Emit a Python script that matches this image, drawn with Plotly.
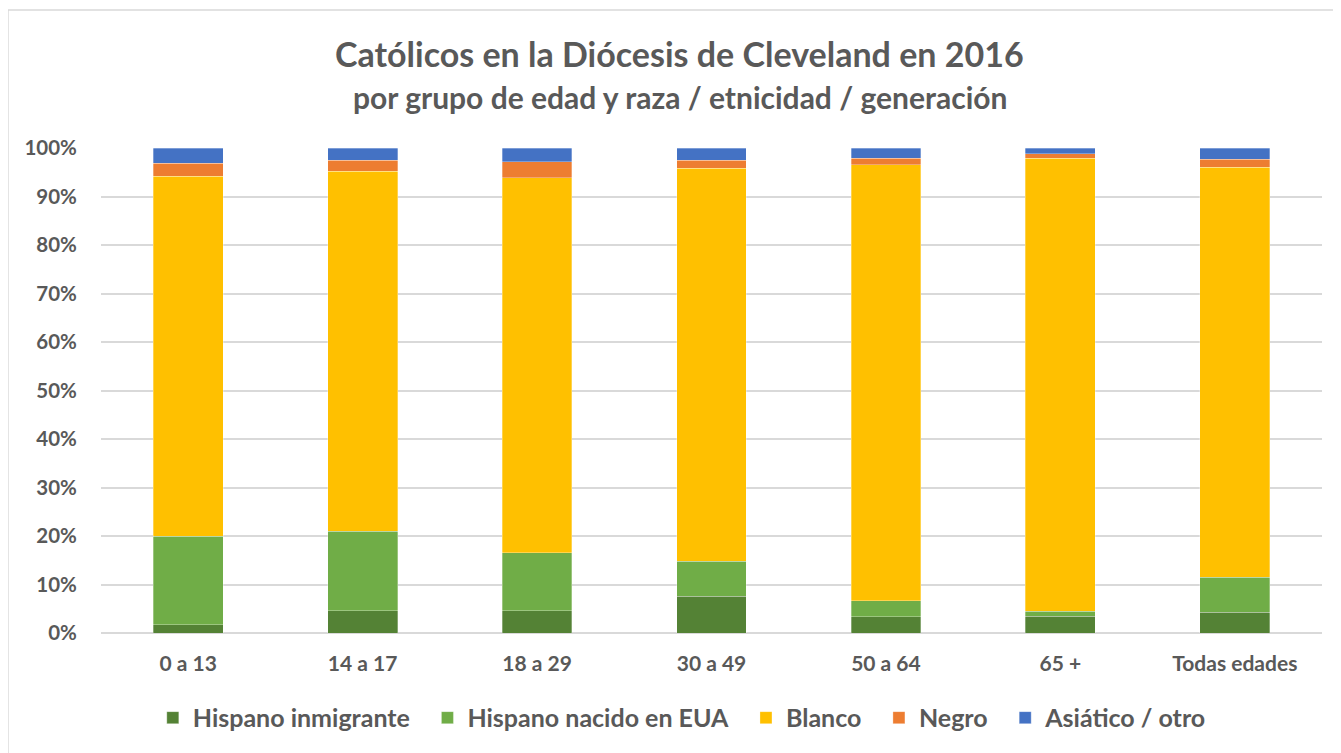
import plotly.graph_objects as go

categories = ["0 a 13", "14 a 17", "18 a 29", "30 a 49", "50 a 64", "65 +", "Todas edades"]
hispano_inmigrante = [1.7, 4.6, 4.6, 7.6, 3.4, 3.5, 4.3]
hispano_nacido = [18.3, 16.4, 11.9, 7.2, 3.2, 1.0, 7.2]
blanco = [74.2, 74.2, 77.4, 81.0, 89.9, 93.4, 84.5]
negro = [2.7, 2.3, 3.3, 1.7, 1.4, 0.9, 1.7]
asiatico = [3.1, 2.5, 2.8, 2.5, 2.1, 1.2, 2.3]

series = [
    ("Hispano inmigrante", hispano_inmigrante, "#548235"),
    ("Hispano nacido en EUA", hispano_nacido, "#70AD47"),
    ("Blanco", blanco, "#FFC000"),
    ("Negro", negro, "#ED7D31"),
    ("Asiático / otro", asiatico, "#4472C4"),
]

fig = go.Figure()
for name, vals, color in series:
    fig.add_trace(go.Bar(
        x=categories, y=[v / 100 for v in vals], name=name + "\u2002",
        marker=dict(color=color, line=dict(color="rgba(255,255,255,0.5)", width=0.6)),
    ))

gray = "#595959"
font_family = "Lato, 'Open Sans', sans-serif"
fig.update_layout(
    barmode="stack",
    bargap=0.6,
    width=1333, height=745,
    margin=dict(l=93, r=19, t=140, b=120),
    plot_bgcolor="white", paper_bgcolor="white",
    font=dict(family=font_family, color=gray),
    showlegend=True,
    legend=dict(orientation="h", x=0.481, xanchor="center", y=-0.175, yanchor="middle",
                font=dict(size=25, color=gray, family=font_family, weight="bold"),
                traceorder="normal", itemwidth=30),
    xaxis=dict(showgrid=False, showline=False, ticks="outside", ticklen=12, tickcolor="rgba(0,0,0,0)",
               tickfont=dict(size=21, color=gray, family=font_family, weight="bold")),
    yaxis=dict(range=[0, 1], dtick=0.1, tickformat=".0%", showgrid=True, gridcolor="#D9D9D9",
               gridwidth=1.5, zeroline=True, zerolinecolor="#D9D9D9", zerolinewidth=1.5,
               ticks="outside", ticklen=19, tickcolor="rgba(0,0,0,0)",
               tickfont=dict(size=20.5, color=gray, family=font_family, weight="bold")),
    annotations=[
        dict(text="<b>Católicos en la Diócesis de Cleveland en 2016</b>", xref="paper", yref="paper",
             x=0.474, y=1.194, xanchor="center", yanchor="middle", showarrow=False,
             font=dict(size=34, color=gray, family=font_family)),
        dict(text="<b>por grupo de edad y raza / etnicidad / generación</b>", xref="paper", yref="paper",
             x=0.474, y=1.105, xanchor="center", yanchor="middle", showarrow=False,
             font=dict(size=30, color=gray, family=font_family)),
    ],
    shapes=[
        dict(type="rect", xref="paper", yref="paper", x0=-0.0762, x1=1.0147, y0=-0.3, y1=1.2845,
             line=dict(color="#D9D9D9", width=1.5), fillcolor="rgba(0,0,0,0)", layer="below"),
    ],
)

fig.write_html("out.html")
